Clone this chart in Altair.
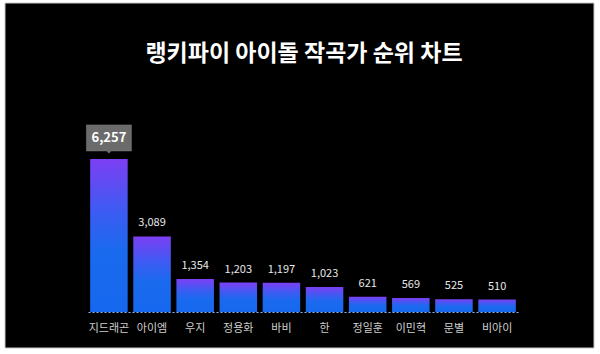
import altair as alt
import pandas as pd

names = ["지드래곤", "아이엠", "우지", "정용화", "바비", "한", "정일훈", "이민혁", "문별", "비아이"]
values = [6257, 3089, 1354, 1203, 1197, 1023, 621, 569, 525, 510]

df = pd.DataFrame({"name": names, "value": values})
df["label"] = df["value"].map(lambda v: f"{v:,}")
df["top"] = df["value"] == df["value"].max()

FONT = "Noto Sans CJK KR"

x = alt.X(
    "name:N",
    sort=names,
    scale=alt.Scale(paddingInner=0.13, paddingOuter=0.05),
    axis=alt.Axis(
        title=None, labelAngle=0, labelColor="#cfcfcf", labelFontSize=11,
        labelFont=FONT, labelPadding=10, ticks=False, domainColor="#8fb8ff",
        domainDash=[2, 2], domainWidth=1, zindex=1, grid=False,
    ),
)
y = alt.Y("value:Q", scale=alt.Scale(domain=[0, 7440], nice=False), axis=None)

bg = alt.Chart(alt.Data(values=[{}])).mark_rect(
    fill="black", stroke="#c8c8c8", strokeWidth=1
).encode(
    x=alt.value(-83), x2=alt.value(506), y=alt.value(-127), y2=alt.value(218)
)

base = alt.Chart(df)

bars = base.mark_bar(
    color=alt.Gradient(
        gradient="linear", x1=0, x2=0, y1=0, y2=1,
        stops=[
            alt.GradientStop(color="#7d3ff4", offset=0),
            alt.GradientStop(color="#3b5cf2", offset=0.35),
            alt.GradientStop(color="#1a6aee", offset=0.6),
            alt.GradientStop(color="#1668ee", offset=1),
        ],
    )
).encode(x=x, y=y)

labels = base.transform_filter("!datum.top").mark_text(
    color="#e8e8e8", fontSize=11, font=FONT, baseline="bottom", dy=-8
).encode(x=x, y=y, text="label:N")

box_path = "M-1,-0.578 H1 V0.578 H0.09 L0,0.68 L-0.09,0.578 H-1 Z"
box = base.transform_filter("datum.top").mark_point(
    shape=box_path, size=2025, filled=True, fill="#6b6b6b", opacity=1,
    stroke="#808080", strokeWidth=0.5, yOffset=-21,
).encode(x=x, y=y)

box_text = base.transform_filter("datum.top").mark_text(
    color="white", fontSize=13, fontWeight="bold", font=FONT,
    baseline="middle", dy=-21,
).encode(x=x, y=y, text="label:N")

chart = alt.layer(bg, bars, labels, box, box_text).properties(
    width=430,
    height=182,
    title=alt.Title(
        "랭키파이 아이돌 작곡가 순위 차트", color="white", fontSize=23,
        font=FONT, fontWeight="bold", anchor="middle", offset=-63, dx=1,
    ),
    padding={"left": 88, "top": 130, "right": 82, "bottom": 42},
    autosize=alt.AutoSizeParams(type="none"),
    background="white",
).configure_view(stroke=None)

chart.save("out.html", embed_options={"renderer": "svg", "actions": False})
